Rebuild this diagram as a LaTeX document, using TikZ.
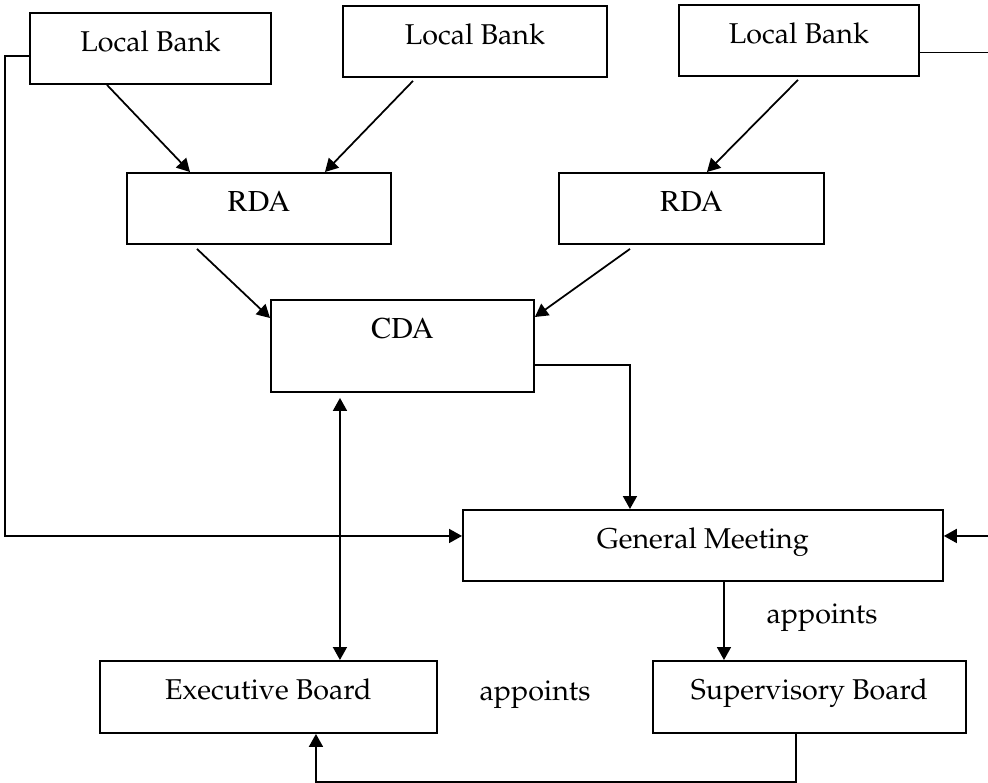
\documentclass[tikz,border=0pt]{standalone}
\usepackage[T1]{fontenc}
\usepackage{mathpazo}
\usetikzlibrary{arrows.meta}

\tikzset{
  box/.style={draw, line width=1.1pt, inner sep=0pt, anchor=north west,
    text height=0.78cm, text depth=0.64cm},
  tbox/.style={box, font=\fontfamily{ptm}\fontsize{17.2}{20}\selectfont},
  arr/.style={line width=1pt, -{Triangle[length=0.26cm,width=0.28cm]}},
  darr/.style={line width=1pt, {Triangle[length=0.26cm,width=0.28cm]}-{Triangle[length=0.26cm,width=0.28cm]}},
}

\begin{document}
\begin{tikzpicture}[x=0.02cm, y=-0.02cm, font=\fontsize{16.3}{19}\selectfont]
		\useasboundingbox (0,0) rectangle (988,782);
		\node[box, minimum width=4.82cm] (lb1) at (29,12) {Local Bank};
		\node[box, minimum width=5.28cm] (lb2) at (342,5) {Local Bank};
		\node[box, minimum width=4.80cm] (lb3) at (678,4) {Local Bank};
		\node[tbox, minimum width=5.28cm] (rda1) at (126,172) {RDA};
		\node[tbox, minimum width=5.30cm] (rda2) at (558,172) {RDA};
		\node[tbox, minimum width=5.26cm, text depth=1.06cm] (cda) at (270,299) {CDA};
		\node[box, minimum width=9.60cm] (gm) at (462,509) {General Meeting};
		\node[box, minimum width=6.74cm, text depth=0.66cm] (eb) at (99,660) {Executive Board};
		\node[box, minimum width=6.26cm, text depth=0.66cm] (sb) at (652,660) {Supervisory Board};
		\node (ap1) at (822,618) {appoints};
		\node (ap2) at (535,695) {appoints};
		\draw[arr] ([xshift=1.56cm]lb1.south west) -- ([xshift=1.28cm]rda1.north west);
		\draw[arr] ([xshift=1.42cm,yshift=-0.06cm]lb2.south west) -- ([xshift=3.98cm]rda1.north west);
		\draw[arr] ([xshift=2.40cm,yshift=-0.06cm]lb3.south west) -- ([xshift=2.98cm]rda2.north west);
		\draw[arr] ([xshift=1.42cm,yshift=-0.08cm]rda1.south west) -- ([yshift=-0.38cm]cda.north west);
		\draw[arr] ([xshift=1.44cm,yshift=-0.08cm]rda2.south west) -- ([yshift=-0.36cm]cda.north east);
		\draw[arr] ([yshift=0.56cm]cda.south east) -| ([xshift=3.36cm]gm.north west);
		\draw[darr] ([xshift=1.40cm,yshift=-0.1cm]cda.south west) -- ([xshift=4.82cm]eb.north west);
		\draw[arr] ([yshift=-0.15cm]lb1.west) -- ++(-24,0) |- ([yshift=0.19cm]gm.west);
		\draw[arr] ([yshift=-0.24cm]lb3.east) -- ++(72,0) |- ([yshift=0.19cm]gm.east);
		\draw[arr] ([xshift=5.24cm]gm.south west) -- ([xshift=1.44cm]sb.north west);
		\draw[arr] ([xshift=2.88cm]sb.south west) -- ++(0,48) -| ([xshift=4.34cm]eb.south west);
	% CDA organisation
	\end{tikzpicture}
\end{document}
